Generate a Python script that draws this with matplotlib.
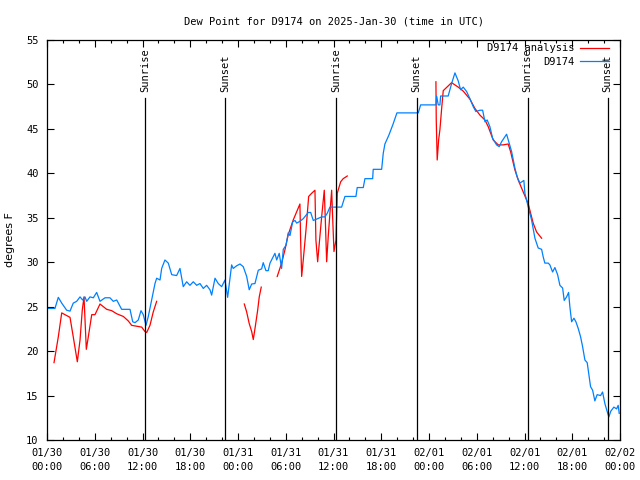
import matplotlib
matplotlib.use("Agg")
import matplotlib.pyplot as plt
import matplotlib.dates as mdates
import numpy as np
from datetime import datetime, timedelta

base = datetime(2025, 1, 30)
nan = float("nan")

# Observations (hours since 2025-01-30 00:00 UTC, degrees F)
obs_hours = [0.04, 1.0, 1.42, 1.85, 2.47, 2.89, 3.30, 3.73, 4.15, 4.48, 4.77, 4.99, 5.40, 5.82,
             6.24, 6.66, 7.29, 7.91, 8.33, 8.76, 9.38, 9.80, 10.43, 10.77, 11.06, 11.47, 11.81,
             12.10, 12.44, 12.73, 13.15, 13.57, 13.78, 14.20, 14.41, 14.82, 15.24, 15.67, 16.29,
             16.71, 17.12, 17.55, 17.96, 18.38, 18.81, 19.22, 19.64, 20.06, 20.48, 20.69, 21.11,
             21.52, 21.95, 22.36, 22.70, 23.20, 23.40, 23.83, 24.25, 24.66, 25.09, 25.41, 25.72,
             26.13, 26.55, 26.97, 27.17, 27.51, 27.80, 28.02, 28.64, 28.86, 29.18, 29.48, 29.69,
             30.03, 30.31, 30.53, 30.87, 31.16, 31.37, 31.78, 32.20, 32.83, 33.13, 33.46, 33.88,
             34.51, 34.92, 35.21, 35.55, 37.02, 37.44, 38.82, 38.98, 39.74, 39.95, 40.92, 40.99,
             42.05, 42.25, 42.46, 42.96, 43.47, 43.97, 44.35, 46.65, 46.95, 48.87, 48.96, 49.16,
             49.37, 49.46, 50.41, 50.84, 51.26, 51.67, 51.97, 52.30, 52.73, 53.14, 53.56, 53.89,
             54.40, 54.74, 55.03, 55.31, 55.65, 55.99, 56.49, 56.82, 57.12, 57.41, 57.75, 58.08,
             58.38, 58.79, 59.08, 59.42, 59.92, 60.05, 60.46, 60.89, 61.31, 61.72, 62.15, 62.35,
             62.56, 62.98, 63.19, 63.53, 63.82, 64.16, 64.45, 64.79, 64.99, 65.29, 65.54, 65.70,
             65.92, 66.21, 66.46, 66.75, 67.05, 67.30, 67.59, 67.88, 68.13, 68.30, 68.56, 68.84,
             69.13, 69.56, 69.81, 70.10, 70.39, 70.60, 70.85, 71.23, 71.57, 71.77, 71.90]
obs_values = [24.8, 24.8, 26.05, 25.4, 24.6, 24.5, 25.4, 25.6, 26.1, 25.75, 26.1, 25.6, 26.1, 26.0,
              26.6, 25.6, 26.0, 26.0, 25.6, 25.75, 24.7, 24.7, 24.7, 23.3, 23.2, 23.5, 24.55,
              24.1, 22.9, 23.9, 25.75, 27.6, 28.2, 28.0, 29.3, 30.25, 29.9, 28.6, 28.5,
              29.3, 27.25, 27.8, 27.4, 27.8, 27.4, 27.6, 27.05, 27.4, 26.9, 26.3, 28.2,
              27.6, 27.25, 28.0, 26.05, 29.7, 29.3, 29.6, 29.8, 29.5, 28.4, 26.9, 27.55,
              27.6, 29.1, 29.25, 29.95, 29.05, 29.05, 29.9, 31.0, 30.25, 31.0, 29.3, 31.45,
              31.9, 33.3, 33.0, 34.55, 34.7, 34.4, 34.6, 34.9, 35.6, 35.6, 34.7, 34.85,
              35.1, 35.1, 35.5, 36.2, 36.2, 37.4, 37.4, 38.4, 38.4, 39.4, 39.4, 40.45,
              40.45, 42.25, 43.3, 44.3, 45.5, 46.8, 46.8, 46.8, 47.7, 47.7, 48.7, 47.7,
              47.7, 48.7, 48.7, 50.1, 51.3, 50.4, 49.4, 49.7, 49.2, 48.4, 47.5, 46.95,
              47.1, 47.1, 45.8, 46.0, 45.25, 43.95, 43.2, 43.0, 43.55, 43.95, 44.4, 43.4,
              42.45, 40.6, 39.6, 38.9, 39.2, 37.75, 36.25, 34.75, 32.7, 31.6, 31.45, 30.6,
              29.9, 29.9, 29.7, 28.9, 29.4, 28.6, 27.4, 27.1, 25.7, 26.1, 26.6, 25.0,
              23.3, 23.7, 23.3, 22.55, 21.6, 20.5, 19.0, 18.7, 17.1, 16.0, 15.6, 14.4,
              15.1, 15.0, 15.4, 14.1, 13.2, 12.6, 13.25, 13.7, 13.5, 13.9, 13.0]

# Analysis (NaN = gap)
ana_hours = [0.88, 1.42, 1.85, 2.26, 2.89, 3.30, 3.81, 4.15, 4.43, 4.65, 4.94, 5.19, 5.62, 6.03,
             6.66, 7.50, 8.13, 8.76, 9.59, 10.21, 10.64, 11.27, 11.90, 12.31, 12.53, 12.94,
             13.35, 13.78, 14.0,
             24.79, 25.09, 25.41, 25.72, 25.92, 26.17, 26.47, 26.67, 26.92, 27.0,
             28.93, 29.48, 29.90, 30.31, 30.94, 31.78, 31.87, 32.00, 32.20, 32.54, 32.88, 33.25,
             33.67, 33.79, 34.01, 34.21, 34.51, 34.84, 34.96, 35.14, 35.34, 35.55, 35.77, 35.89,
             36.06, 36.31, 36.47, 36.90, 37.22, 37.73, 38.0,
             48.87, 48.91, 49.03, 49.21, 49.37, 49.59, 49.79, 50.84, 51.67, 52.30, 53.14, 53.77,
             54.40, 55.03, 55.44, 56.07, 56.70, 57.32, 57.95, 58.25, 58.79, 59.21, 59.84, 60.46,
             61.09, 61.52, 62.15]
ana_values = [18.7, 21.6, 24.3, 24.1, 23.8, 21.6, 18.8, 21.25, 24.6, 26.1, 20.2, 21.6, 24.1, 24.1,
              25.3, 24.7, 24.55, 24.2, 23.9, 23.4, 22.9, 22.8, 22.7, 22.2, 22.1, 22.9,
              24.4, 25.6, nan,
              25.3, 24.4, 23.1, 22.2, 21.3, 22.75, 24.6, 26.1, 27.2, nan,
              28.4, 29.9, 31.4, 33.1, 34.75, 36.55, 32.5, 28.4, 30.25, 33.6, 37.4, 37.75,
              38.1, 32.5, 30.05, 32.1, 35.1, 38.1, 35.1, 30.05, 32.9, 35.5, 38.1, 35.1,
              31.2, 32.5, 37.75, 39.05, 39.4, 39.7, nan,
              50.3, 46.0, 41.5, 43.75, 44.9, 47.3, 49.3, 50.2, 49.7, 49.25, 48.35, 47.3,
              46.55, 46.0, 45.25, 43.75, 43.2, 43.2, 43.3, 42.45, 40.4, 39.25, 37.9, 36.6,
              34.4, 33.4, 32.7]

event_hours = [12.3, 22.35, 36.3, 46.45, 60.4, 70.45]
event_labels = ["Sunrise", "Sunset", "Sunrise", "Sunset", "Sunrise", "Sunset"]
event_line_top = 48.5
event_text_y = 49.2

title = "Dew Point for D9174 on 2025-Jan-30 (time in UTC)"
ylabel = "degrees F"

def to_dt(hs):
    return [base + timedelta(hours=h) for h in hs]

mono = "DejaVu Sans Mono"
fs = 7.5

fig = plt.figure(figsize=(6.4, 4.8), dpi=100)
ax = fig.add_axes([47/640, 1-440/480, (620-47)/640, 400/480])

ax.plot(to_dt(ana_hours), ana_values, color="#ff0000", lw=0.9, label="D9174 analysis")
ax.plot(to_dt(obs_hours), obs_values, color="#0080ff", lw=0.9, label="D9174")

for h, lab in zip(event_hours, event_labels):
    t = base + timedelta(hours=h)
    ax.plot([t, t], [10, event_line_top], color="black", lw=0.9)
    ax.text(t, event_text_y, lab, rotation=90, ha="center", va="bottom",
            fontsize=fs, family=mono)

ax.set_xlim(base, base + timedelta(hours=72))
ax.set_ylim(10, 55)
ax.set_yticks(np.arange(10, 56, 5))
ax.xaxis.set_major_locator(mdates.HourLocator(byhour=[0, 6, 12, 18]))
ax.xaxis.set_minor_locator(mdates.HourLocator(byhour=range(0, 24, 2)))
ax.xaxis.set_major_formatter(mdates.DateFormatter("%m/%d\n%H:%M"))

ax.tick_params(axis="both", which="both", direction="in", top=True, right=True,
               labelsize=fs, width=0.8)
ax.tick_params(axis="both", which="major", length=5)
ax.tick_params(axis="x", which="minor", length=2.5)
ax.tick_params(axis="x", which="major", pad=6)
ax.tick_params(axis="y", which="major", pad=6)
for lbl in ax.get_xticklabels():
    lbl.set_family(mono)
    lbl.set_linespacing(1.45)
for lbl in ax.get_yticklabels():
    lbl.set_family(mono)
for s in ax.spines.values():
    s.set_linewidth(0.9)

ax.set_title(title, fontsize=fs, family=mono, pad=11)
ax.set_ylabel(ylabel, fontsize=fs + 0.5, labelpad=8)

leg = ax.legend(loc="upper right", markerfirst=False, frameon=False,
                prop={"family": mono, "size": fs}, handlelength=2.8,
                handletextpad=0.5, labelspacing=0.35, borderaxespad=0.3,
                bbox_to_anchor=(0.994, 1.01))

fig.savefig("out.png", dpi=100)
